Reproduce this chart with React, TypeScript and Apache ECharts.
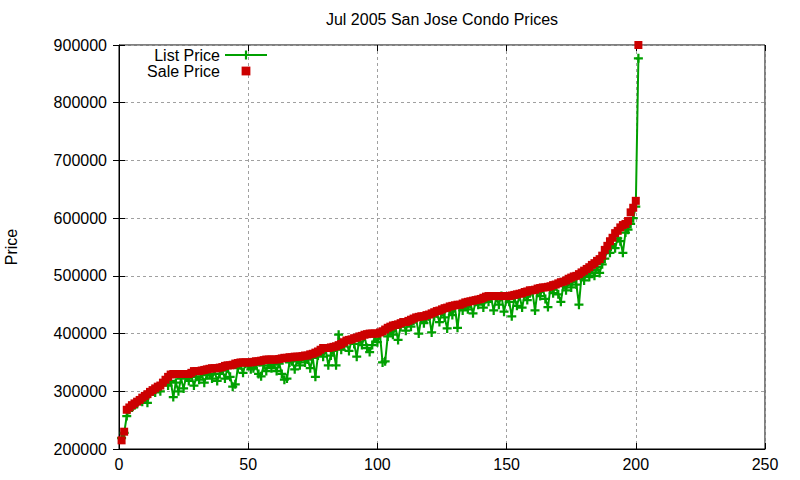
import { useEffect, useRef } from 'react';
import * as echarts from 'echarts';

const TITLE = 'Jul 2005 San Jose Condo Prices';
const SERIES_NAMES = ['List Price', 'Sale Price'];
const X_TICKS = [0, 50, 100, 150, 200, 250];
const Y_TICKS = [200000, 300000, 400000, 500000, 600000, 700000, 800000, 900000];

// sale prices, sorted, index 1..201
const SALE_PRICES = [
  215000, 230000, 268000, 272000, 276000, 279000, 282000, 285000, 289000, 292000,
  295000, 299000, 302000, 305000, 308000, 310000, 315000, 320000, 325000, 329000,
  330000, 330000, 330000, 330000, 330000, 330000, 330000, 332000, 335000, 335000,
  335000, 336000, 337000, 338000, 339000, 340000, 340000, 340000, 341000, 342000,
  344000, 345000, 345000, 346000, 348000, 349000, 350000, 350000, 350000, 350000,
  350000, 351000, 352000, 352000, 353000, 354000, 355000, 355000, 355000, 355000,
  355000, 356000, 357000, 358000, 358000, 359000, 359000, 360000, 360000, 360000,
  361000, 362000, 362000, 364000, 365000, 367000, 369000, 372000, 375000, 375000,
  375000, 376000, 377000, 378000, 380000, 382000, 385000, 388000, 389000, 390000,
  392000, 393000, 395000, 396000, 398000, 399000, 400000, 400000, 400000, 400000,
  402000, 404000, 407000, 410000, 412000, 414000, 415000, 416000, 418000, 420000,
  420000, 422000, 424000, 426000, 428000, 429000, 430000, 430000, 432000, 433000,
  435000, 437000, 439000, 440000, 442000, 444000, 445000, 447000, 448000, 449000,
  450000, 450000, 452000, 454000, 455000, 456000, 457000, 458000, 459000, 460000,
  462000, 464000, 465000, 465000, 465000, 465000, 465000, 465000, 465000, 465000,
  465000, 466000, 467000, 468000, 469000, 470000, 472000, 473000, 475000, 475000,
  476000, 478000, 479000, 480000, 480000, 481000, 482000, 484000, 485000, 487000,
  489000, 490000, 492000, 495000, 497000, 499000, 500000, 503000, 506000, 509000,
  512000, 515000, 519000, 522000, 526000, 529000, 535000, 545000, 552000, 560000,
  566000, 574000, 578000, 584000, 588000, 590000, 595000, 610000, 618000, 630000,
  900000,
];

// list prices for the same homes
const LIST_PRICES = [
  219000, 228000, 257000, 268000, 272000, 276000, 278000, 284000, 282000, 290000,
  280000, 296000, 300000, 298000, 306000, 300000, 312000, 318000, 310000, 318000,
  290000, 315000, 300000, 322000, 305000, 325000, 318000, 328000, 310000, 325000,
  320000, 330000, 315000, 328000, 330000, 322000, 335000, 318000, 330000, 336000,
  322000, 340000, 325000, 308000, 312000, 340000, 345000, 332000, 348000, 345000,
  338000, 340000, 345000, 330000, 326000, 345000, 335000, 350000, 340000, 346000,
  335000, 348000, 330000, 320000, 322000, 350000, 352000, 338000, 355000, 345000,
  360000, 350000, 355000, 340000, 358000, 325000, 362000, 368000, 360000, 372000,
  345000, 362000, 370000, 345000, 398000, 372000, 378000, 385000, 370000, 388000,
  382000, 360000, 390000, 380000, 395000, 375000, 368000, 380000, 395000, 385000,
  398000, 350000, 352000, 395000, 405000, 398000, 410000, 389000, 412000, 418000,
  405000, 420000, 412000, 422000, 425000, 400000, 428000, 418000, 425000, 430000,
  402000, 430000, 435000, 420000, 438000, 428000, 409000, 440000, 432000, 445000,
  410000, 448000, 440000, 450000, 442000, 452000, 435000, 455000, 450000, 458000,
  445000, 460000, 455000, 462000, 440000, 462000, 450000, 465000, 438000, 460000,
  455000, 430000, 462000, 448000, 465000, 445000, 468000, 458000, 470000, 472000,
  440000, 475000, 465000, 478000, 460000, 446000, 480000, 470000, 482000, 468000,
  455000, 485000, 475000, 490000, 480000, 495000, 485000, 450000, 500000, 492000,
  505000, 498000, 510000, 500000, 515000, 505000, 520000, 530000, 545000, 540000,
  555000, 548000, 565000, 560000, 540000, 575000, 580000, 590000, 600000, 620000,
  877000,
];

const GREEN = '#00a000';
const RED = '#cc0000';
const FONT = "'Liberation Sans', Arial, sans-serif";
const PLUS = 'path://M3,0H5V3H8V5H5V8H3V5H0V3H3Z';

export default function App() {
  const chartRef = useRef<HTMLDivElement>(null);

  useEffect(() => {
    if (!chartRef.current) return;
    const chart = echarts.init(chartRef.current, undefined, { renderer: 'svg' });

    const listData = LIST_PRICES.map((v, i) => [i + 1, v]);
    const saleData = SALE_PRICES.map((v, i) => [i + 1, v]);

    const xMin = X_TICKS[0];
    const xMax = X_TICKS[X_TICKS.length - 1];
    const xStep = X_TICKS[1] - X_TICKS[0];
    const yMin = Y_TICKS[0];
    const yMax = Y_TICKS[Y_TICKS.length - 1];
    const yStep = Y_TICKS[1] - Y_TICKS[0];

    const mirrorAxis = {
      axisLine: { show: false },
      axisTick: { show: true, inside: true, length: 6, lineStyle: { color: '#000' } },
      axisLabel: { show: false },
      splitLine: { show: false },
    };

    const option: echarts.EChartsOption = {
      animation: false,
      title: {
        text: TITLE,
        left: 442,
        top: 11,
        textAlign: 'center',
        padding: 0,
        textStyle: { fontFamily: FONT, fontSize: 16, fontWeight: 'normal', color: '#000' },
      },
      legend: {
        orient: 'vertical',
        align: 'right',
        right: 532,
        top: 47,
        padding: 0,
        itemGap: 0,
        itemWidth: 42,
        itemHeight: 11,
        selectedMode: false,
        data: SERIES_NAMES,
        textStyle: { fontFamily: FONT, fontSize: 16, color: '#000', lineHeight: 16 },
      },
      grid: {
        left: 119,
        right: 35,
        top: 45,
        bottom: 31,
        show: true,
        borderColor: '#000',
        borderWidth: 1,
        containLabel: false,
        outerBoundsMode: 'none',
      } as any,
      xAxis: [
        {
          type: 'value',
          min: xMin,
          max: xMax,
          interval: xStep,
          axisLine: { show: true, lineStyle: { color: '#000' } },
          axisTick: { show: true, inside: true, length: 6, lineStyle: { color: '#000' } },
          axisLabel: { color: '#000', fontFamily: FONT, fontSize: 16, margin: 7 },
          splitLine: { show: true, lineStyle: { color: '#a0a0a0', type: [3, 3], width: 1 } },
        },
        { type: 'value', position: 'top', ...mirrorAxis, min: xMin, max: xMax, interval: xStep },
      ],
      yAxis: [
        {
          type: 'value',
          min: yMin,
          max: yMax,
          interval: yStep,
          name: 'Price',
          nameLocation: 'middle',
          nameGap: 100,
          nameTextStyle: { fontFamily: FONT, fontSize: 16, color: '#000' },
          axisLine: { show: true, lineStyle: { color: '#000' } },
          axisTick: { show: true, inside: true, length: 6, lineStyle: { color: '#000' } },
          axisLabel: { color: '#000', fontFamily: FONT, fontSize: 16, margin: 12, formatter: (v: number) => String(v) },
          splitLine: { show: true, lineStyle: { color: '#a0a0a0', type: [3, 3], width: 1 } },
        },
        { type: 'value', position: 'right', ...mirrorAxis, min: yMin, max: yMax, interval: yStep },
      ],
      series: [
        {
          name: SERIES_NAMES[0],
          type: 'line',
          data: listData,
          symbol: PLUS,
          symbolSize: 9,
          showSymbol: true,
          clip: false,
          itemStyle: { color: GREEN },
          lineStyle: { color: GREEN, width: 2 },
        },
        {
          name: SERIES_NAMES[1],
          type: 'line',
          data: saleData,
          symbol: 'rect',
          symbolSize: 8,
          showSymbol: true,
          clip: false,
          itemStyle: { color: RED },
          lineStyle: { color: RED, width: 0, opacity: 0 },
        },
      ],
    };

    chart.setOption(option);
    return () => chart.dispose();
  }, []);

  return (
    <div
      ref={chartRef}
      style={{ position: 'absolute', left: 0, top: 0, width: 800, height: 480, background: '#fff' }}
    />
  );
}
